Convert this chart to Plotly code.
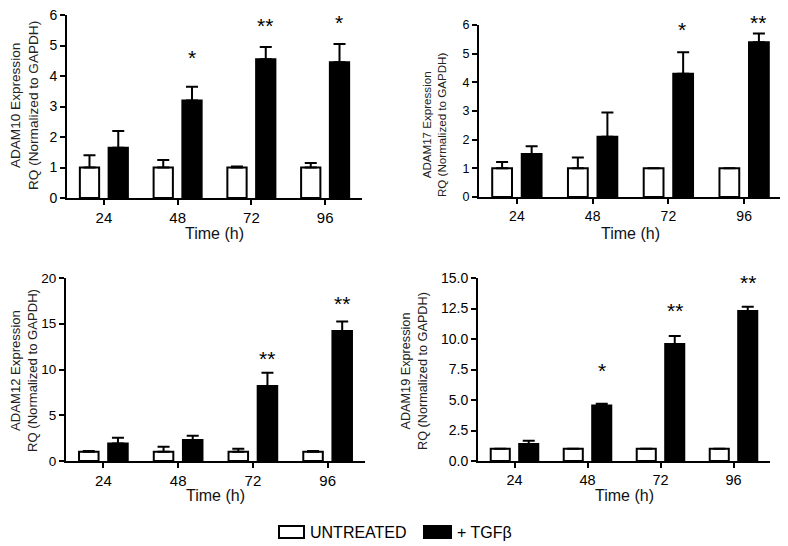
import plotly.graph_objects as go

# ---------------- data ----------------
times = ["24", "48", "72", "96"]

adam10_untreated = [1.0, 1.0, 1.0, 1.0]
adam10_untreated_err = [0.40, 0.25, 0.03, 0.15]
adam10_tgfb = [1.65, 3.20, 4.55, 4.45]
adam10_tgfb_err = [0.55, 0.45, 0.40, 0.60]
adam10_sig = ["", "*", "**", "*"]
adam10_sig_y = [0, 4.6, 5.65, 5.75]

adam17_untreated = [1.0, 1.0, 1.0, 1.0]
adam17_untreated_err = [0.22, 0.38, 0.0, 0.0]
adam17_tgfb = [1.50, 2.10, 4.30, 5.40]
adam17_tgfb_err = [0.27, 0.85, 0.75, 0.30]
adam17_sig = ["", "", "*", "**"]
adam17_sig_y = [0, 0, 5.85, 6.1]

adam12_untreated = [1.0, 1.0, 1.0, 1.0]
adam12_untreated_err = [0.10, 0.55, 0.35, 0.10]
adam12_tgfb = [1.90, 2.30, 8.20, 14.20]
adam12_tgfb_err = [0.65, 0.45, 1.45, 1.05]
adam12_sig = ["", "", "**", "**"]
adam12_sig_y = [0, 0, 11.2, 17.2]

adam19_untreated = [1.0, 1.0, 1.0, 1.0]
adam19_untreated_err = [0.0, 0.0, 0.0, 0.0]
adam19_tgfb = [1.40, 4.55, 9.60, 12.30]
adam19_tgfb_err = [0.25, 0.15, 0.65, 0.35]
adam19_sig = ["", "*", "**", "**"]
adam19_sig_y = [0, 7.45, 12.35, 14.65]

panel_names = ["ADAM10", "ADAM17", "ADAM12", "ADAM19"]
y_ranges = [[0, 6], [0, 6], [0, 20], [0, 15]]
y_dticks = [1, 1, 5, 2.5]
y_formats = ["d", "d", "d", ".1f"]

series = [
    (adam10_untreated, adam10_untreated_err, adam10_tgfb, adam10_tgfb_err, adam10_sig, adam10_sig_y),
    (adam17_untreated, adam17_untreated_err, adam17_tgfb, adam17_tgfb_err, adam17_sig, adam17_sig_y),
    (adam12_untreated, adam12_untreated_err, adam12_tgfb, adam12_tgfb_err, adam12_sig, adam12_sig_y),
    (adam19_untreated, adam19_untreated_err, adam19_tgfb, adam19_tgfb_err, adam19_sig, adam19_sig_y),
]

# ---------------- layout geometry (screen pixels) ----------------
W, H = 788, 546
OFF = 8  # the page body margin shifts the figure by 8 px; compensate
def px(x):
    return (x - OFF) / W
def py(y):
    return 1 - (y - OFF) / H

# x0, x1, ytop, ybottom of each plot area
boxes = [(67, 362, 15, 198), (479, 782, 25, 197), (66, 365, 278, 461), (478, 770, 278, 461)]
title_font = [13.6, 11.6, 13.1, 12.7]
tick_x_font = [15, 14, 15, 14.5]
tick_y_font = [14, 12.5, 13.5, 14]
ytitle_x = [24, 434, 24, 414]
ytitle_y = [106, 125, 371, 371]
xtitle_y = [234, 234, 495, 495]

FONT = "Liberation Sans, Arial, sans-serif"

fig = go.Figure()
layout = dict(
    width=W, height=H, margin=dict(l=0, r=0, t=0, b=0, autoexpand=False),
    paper_bgcolor="white", plot_bgcolor="white",
    barmode="group", bargap=0.22, bargroupgap=0.33,
    showlegend=False, font=dict(family=FONT, color="black"),
)
annotations = []
shapes = []

for i, (unt, unt_e, tg, tg_e, sig, sig_y) in enumerate(series):
    k = "" if i == 0 else str(i + 1)
    xa, ya = "x" + k, "y" + k
    x0, x1, yt, yb = boxes[i]
    zeros = [0] * len(times)
    fig.add_trace(go.Bar(
        x=times, y=unt, xaxis=xa, yaxis=ya, name="UNTREATED",
        marker=dict(color="white", line=dict(color="black", width=2)),
        error_y=dict(type="data", array=unt_e, arrayminus=zeros, symmetric=False,
                     color="black", thickness=2, width=6),
    ))
    fig.add_trace(go.Bar(
        x=times, y=tg, xaxis=xa, yaxis=ya, name="+ TGF\u03b2",
        marker=dict(color="black", line=dict(color="black", width=2)),
        error_y=dict(type="data", array=tg_e, arrayminus=zeros, symmetric=False,
                     color="black", thickness=2, width=6),
    ))
    layout["xaxis" + k] = dict(
        domain=[px(x0), px(x1)], anchor=ya, type="category",
        range=[-0.5, len(times) - 0.5],
        showline=True, linecolor="black", linewidth=2,
        ticks="outside", ticklen=5, tickwidth=2, tickcolor="black",
        showgrid=False, zeroline=False, ticklabeloverflow="allow",
        tickfont=dict(size=tick_x_font[i], family=FONT, color="black"),
    )
    layout["yaxis" + k] = dict(
        domain=[py(yb), py(yt)], anchor=xa, range=y_ranges[i],
        dtick=y_dticks[i], tickformat=y_formats[i],
        showline=True, linecolor="black", linewidth=2,
        ticks="outside", ticklen=5, tickwidth=2, tickcolor="black",
        showgrid=False, zeroline=False, ticklabeloverflow="allow",
        tickfont=dict(size=tick_y_font[i], family=FONT, color="black"),
    )
    annotations.append(dict(
        xref="paper", yref="paper", x=px(ytitle_x[i]), y=py(ytitle_y[i]),
        text=panel_names[i] + " Expression<br>RQ (Normalized to GAPDH)",
        textangle=-90, showarrow=False, xanchor="center", yanchor="middle",
        font=dict(size=title_font[i], family=FONT, color="#222"),
    ))
    annotations.append(dict(
        xref="paper", yref="paper", x=px((x0 + x1) / 2), y=py(xtitle_y[i]),
        text="Time (h)", showarrow=False, xanchor="center", yanchor="middle",
        font=dict(size=16, family=FONT, color="#111"),
    ))
    ppu = (yb - yt) / (y_ranges[i][1] - y_ranges[i][0])  # pixels per unit
    for j, (s, sy) in enumerate(zip(sig, sig_y)):
        if s:
            top = tg[j] + tg_e[j]
            annotations.append(dict(
                xref=xa, yref=ya, x=j, y=top, xshift=14, yshift=(sy - top) * ppu,
                text=s, showarrow=False, xanchor="center", yanchor="middle",
                font=dict(size=21, family=FONT, color="black"),
            ))

# manual legend
legend_items = [("UNTREATED", "white", 279, 304), ("+ TGF\u03b2", "black", 424, 451)]
for label, col, lx0, lx1 in legend_items:
    shapes.append(dict(type="rect", xref="paper", yref="paper",
                       x0=px(lx0), x1=px(lx1), y0=py(538), y1=py(526),
                       fillcolor=col, line=dict(color="black", width=2)))
    annotations.append(dict(
        xref="paper", yref="paper", x=px(lx1 + 4), y=py(532), text=label,
        showarrow=False, xanchor="left", yanchor="middle",
        font=dict(size=16, family="Liberation Sans Narrow, Arial Narrow, sans-serif", color="black"),
    ))

layout["annotations"] = annotations
layout["shapes"] = shapes
fig.update_layout(**layout)
fig.write_html("out.html")
